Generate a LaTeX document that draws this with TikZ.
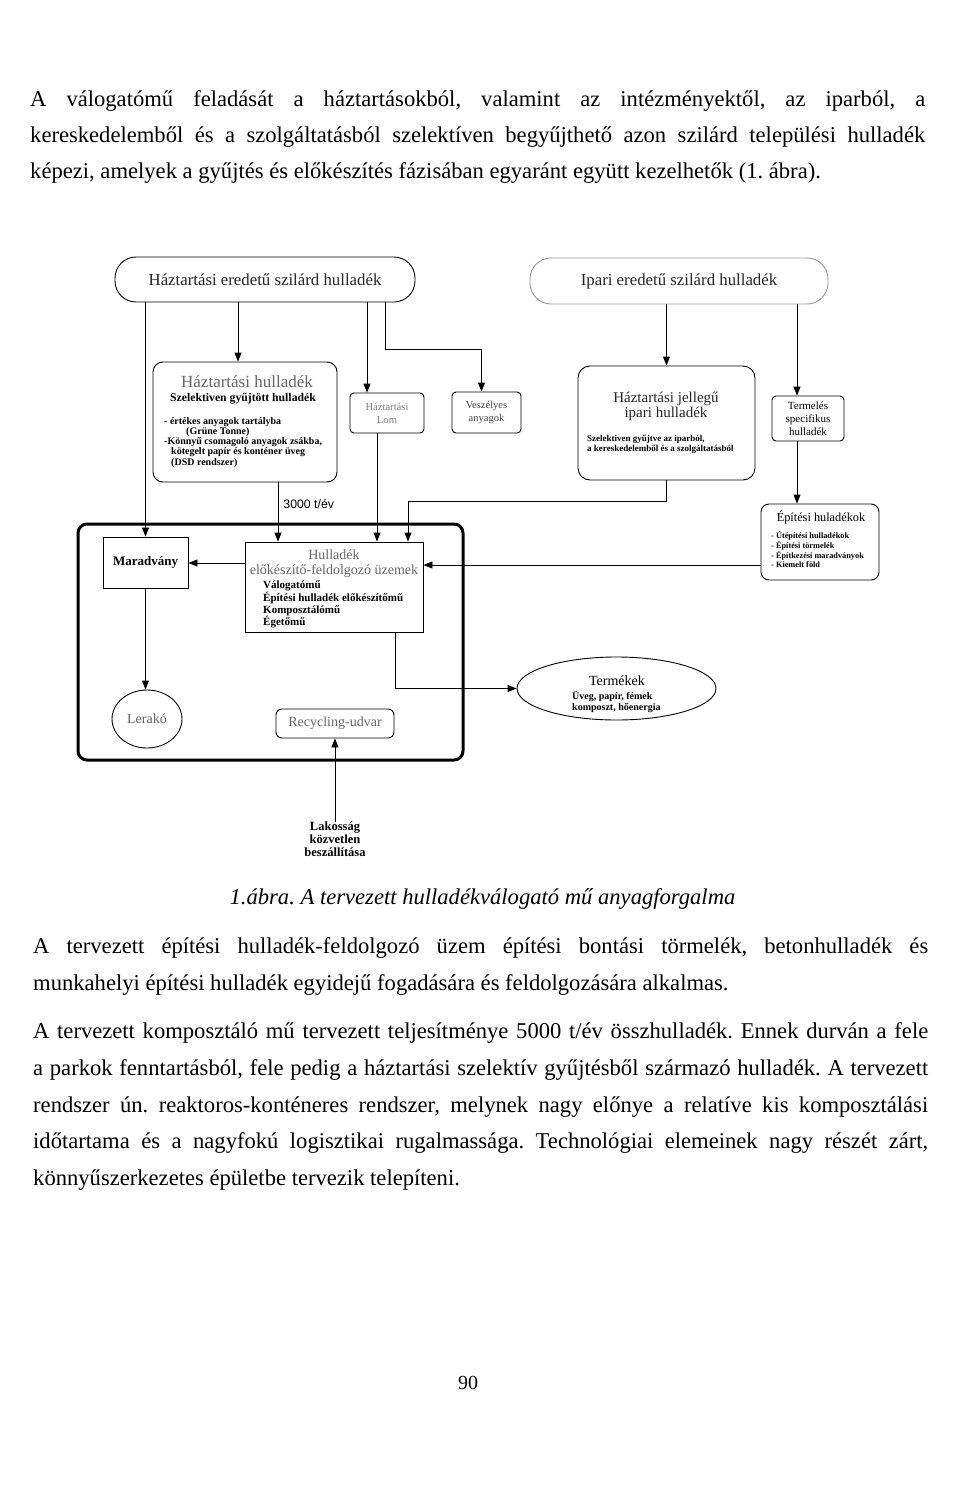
\documentclass[tikz,border=0pt]{standalone}
\usepackage{fontspec}
\usepackage{graphicx}
\setmainfont{Liberation Serif}
\newfontfamily\sansf{Liberation Sans}
\usetikzlibrary{arrows.meta,shapes.geometric}
\newcommand{\jl}[1]{\makebox[895pt][s]{#1}}
\frenchspacing
\tikzset{
  arr/.style={draw, line width=0.9pt, -{Triangle[length=9pt,width=7pt]}},
  capsule/.style={draw, line width=0.9pt, rounded corners=21pt, inner sep=0pt},
  rbox/.style={draw, line width=0.9pt, rounded corners=#1, inner sep=0pt, align=center},
  rbox/.default=8pt,
  sbox/.style={draw, line width=0.9pt, inner sep=0pt, align=center},
  lbl/.style={inner sep=0pt, align=center},
  lst/.style={anchor=north west, inner sep=0pt, align=left},
  body/.style={anchor=base west, inner sep=0pt, font=\frenchspacing\fontsize{22.6}{26}\selectfont},
}
\begin{document}
\begin{tikzpicture}[x=1pt,y=-1pt]
\fill[white] (0,0) rectangle (960,1491);
\useasboundingbox (0,0) rectangle (960,1491);

% ---- body text, top
\node[body] (p1a) at (30,106) {\jl{A válogatómű feladását a háztartásokból, valamint az intézményektől, az iparból, a}};
\node[body] (p1b) at (30,142) {\jl{kereskedelemből és a szolgáltatásból szelektíven begyűjthető azon szilárd települési hulladék}};
\node[body] (p1c) at (30,178) {képezi, amelyek a gyűjtés és előkészítés fázisában egyaránt együtt kezelhetők (1. ábra).};

% ---- diagram
\node[capsule, minimum width=300pt, minimum height=45pt, text=black!85, font=\fontsize{16.8}{19}\selectfont] (hh) at (265,279.5) {Háztartási eredetű szilárd hulladék};
\node[capsule, draw=black!40, minimum width=298pt, minimum height=46pt, text=black!85, font=\fontsize{16.8}{19}\selectfont] (ip) at (679,281) {Ipari eredetű szilárd hulladék};

\node[rbox=10pt, minimum width=184pt, minimum height=120pt] (hsz) at (245,422) {};
\node[lbl, text=black!60, font=\fontsize{17}{19}\selectfont] (hszt) at (247,382) {Háztartási hulladék};
\node[lbl, font=\bfseries\fontsize{11.7}{14}\selectfont] (hszs) at (243,398.5) {Szelektiven gyűjtött hulladék};
\node[lst, font=\bfseries\fontsize{10}{10.25}\selectfont] (hszl) at (164,417) {- értékes anyagok tartályba\\\hspace*{22pt}(Grüne Tonne)\\-Könnyű csomagoló anyagok zsákba,\\\hspace*{7pt}kötegelt papír és konténer üveg\\\hspace*{7pt}(DSD rendszer)};

\node[rbox=4pt, minimum width=74pt, minimum height=40pt, text=black!50, font=\fontsize{10.6}{13}\selectfont] (lom) at (387,413) {Háztartási\\Lom};
\node[rbox=4pt, minimum width=69pt, minimum height=41pt, text=black!75, font=\fontsize{10.5}{12.5}\selectfont] (vesz) at (486.5,412.5) {Veszélyes\\anyagok};

\node[rbox=12pt, minimum width=177pt, minimum height=114pt] (hj) at (666.5,423) {};
\node[lbl, text=black!85, font=\fontsize{15}{15}\selectfont] (hjt) at (666,406) {Háztartási jellegű\\ipari hulladék};
\node[lst, font=\bfseries\fontsize{9}{10}\selectfont] (hjl) at (587,435) {Szelektiven gyűjtve az iparból,\\a kereskedelemből és a szolgáltatásból};

\node[rbox=4pt, minimum width=72pt, minimum height=45pt, font=\fontsize{11}{13}\selectfont] (term) at (808,418.5) {Termelés\\specifikus\\hulladék};

\node[rbox=8pt, minimum width=118pt, minimum height=76pt] (ep) at (820,542) {};
\node[lbl, font=\fontsize{12.3}{14}\selectfont] (ept) at (821,518) {Építési huladékok};
\node[lst, font=\bfseries\fontsize{8.3}{6.9}\selectfont] (epl) at (771,531.5) {- Útépítési hulladékok\\- Építési törmelék\\- Építkezési maradványok\\- Kiemelt föld};

\node[draw, line width=3pt, rounded corners=9pt, minimum width=385pt, minimum height=236pt, inner sep=0pt] (frame) at (270.5,642) {};

\node[sbox, minimum width=85pt, minimum height=51pt, font=\bfseries\fontsize{13}{15}\selectfont] (mar) at (145.5,562.5) {Maradvány};

\node[sbox, minimum width=178pt, minimum height=90pt] (hul) at (334,587) {};
\node[lbl, text=black!60, font=\fontsize{14}{15}\selectfont] (hult) at (334,563.5) {Hulladék\\előkészítő-feldolgozó üzemek};
\node[lst, font=\bfseries\fontsize{11}{11.3}\selectfont] (hull) at (263,581) {Válogatómű\\Építési hulladék előkészítőmű\\Komposztálómű\\Égetőmű};

\node[ellipse, draw, line width=0.9pt, inner sep=0pt, minimum width=70pt, minimum height=58pt, text=black!60, font=\fontsize{14}{16}\selectfont] (ler) at (147,719) {Lerakó};
\node[rbox=6pt, minimum width=118pt, minimum height=29pt, text=black!60, font=\fontsize{14}{16}\selectfont] (rec) at (335,723.5) {Recycling-udvar};

\node[ellipse, draw, line width=0.9pt, inner sep=0pt, minimum width=199pt, minimum height=63pt] (tk) at (616.5,688.5) {};
\node[lbl, font=\fontsize{14}{15}\selectfont] (tkt) at (617,681) {Termékek};
\node[lst, font=\bfseries\fontsize{10}{10.5}\selectfont] (tkl) at (572,691) {Üveg, papír, fémek\\komposzt, hőenergia};

\node[lbl, font=\bfseries\fontsize{12.5}{12.7}\selectfont, anchor=north] (lak) at (335,822) {Lakosság\\közvetlen\\beszállítása};

% ---- connectors
\draw[arr] (mar.north |- hh.south) -- (mar.north);
\draw[arr] ([xshift=-7pt]hsz.north |- hh.south) -- ([xshift=-7pt]hsz.north);
\draw[arr] ([xshift=-20pt]lom.north |- hh.south) -- ([xshift=-20pt]lom.north);
\draw[arr] ([xshift=120pt]hh.south) -- ++(0,47) -| ([xshift=-5pt]vesz.north);
\draw[arr] (hj.north |- ip.south) -- (hj.north);
\draw[arr] ([xshift=-11pt]term.north |- ip.south) -- ([xshift=-11pt]term.north);
\draw[arr] ([xshift=-11pt]term.south) -- ([xshift=-11pt]term.south |- ep.north);
\draw[arr] ([xshift=33pt]hsz.south) -- ([xshift=33pt]hsz.south |- hul.north)
  node[pos=0.37, right=5pt, inner sep=0pt, font=\sansf\fontsize{12.3}{14}\selectfont] (t3000) {3000 t/év};
\draw[arr] ([xshift=-10pt]lom.south) -- ([xshift=-10pt]lom.south |- hul.north);
\draw[arr] (hj.south) -- ++(0,21) -| ([xshift=74pt]hul.north);
\draw[arr] ([yshift=-23pt]ep.west) -- ([yshift=-23pt]ep.west -| hul.east);
\draw[arr] ([yshift=24pt]hul.west) -- ([yshift=24pt]hul.west -| mar.east);
\draw[arr] (mar.south) -- (mar.south |- ler.north);
\draw[arr] ([xshift=61pt]hul.south) |- (tk.west);
\draw[arr] (lak.north) -- (rec.south);

% ---- caption and body text, bottom
\node[anchor=base, inner sep=0pt, font=\itshape\fontsize{22.6}{26}\selectfont] (cap) at (482.5,904) {1.ábra. A tervezett hulladékválogató mű anyagforgalma};
\node[body] (p2a) at (33,953) {\jl{A tervezett építési hulladék-feldolgozó üzem építési bontási törmelék, betonhulladék és}};
\node[body] (p2b) at (33,990) {munkahelyi építési hulladék egyidejű fogadására és feldolgozására alkalmas.};
\node[body] (p3a) at (33,1038) {\jl{A tervezett komposztáló mű tervezett teljesítménye 5000 t/év összhulladék. Ennek durván a fele}};
\node[body] (p3b) at (33,1075) {\jl{a parkok fenntartásból, fele pedig a háztartási szelektív gyűjtésből származó hulladék. A tervezett}};
\node[body] (p3c) at (33,1112) {\jl{rendszer ún. reaktoros-konténeres rendszer, melynek nagy előnye a relatíve kis komposztálási}};
\node[body] (p3d) at (33,1148) {\jl{időtartama és a nagyfokú logisztikai rugalmassága. Technológiai elemeinek nagy részét zárt,}};
\node[body] (p3e) at (33,1185) {könnyűszerkezetes épületbe tervezik telepíteni.};
\node[anchor=base, inner sep=0pt, font=\fontsize{20}{24}\selectfont] (pg) at (468,1389) {90};
\end{tikzpicture}
\end{document}
